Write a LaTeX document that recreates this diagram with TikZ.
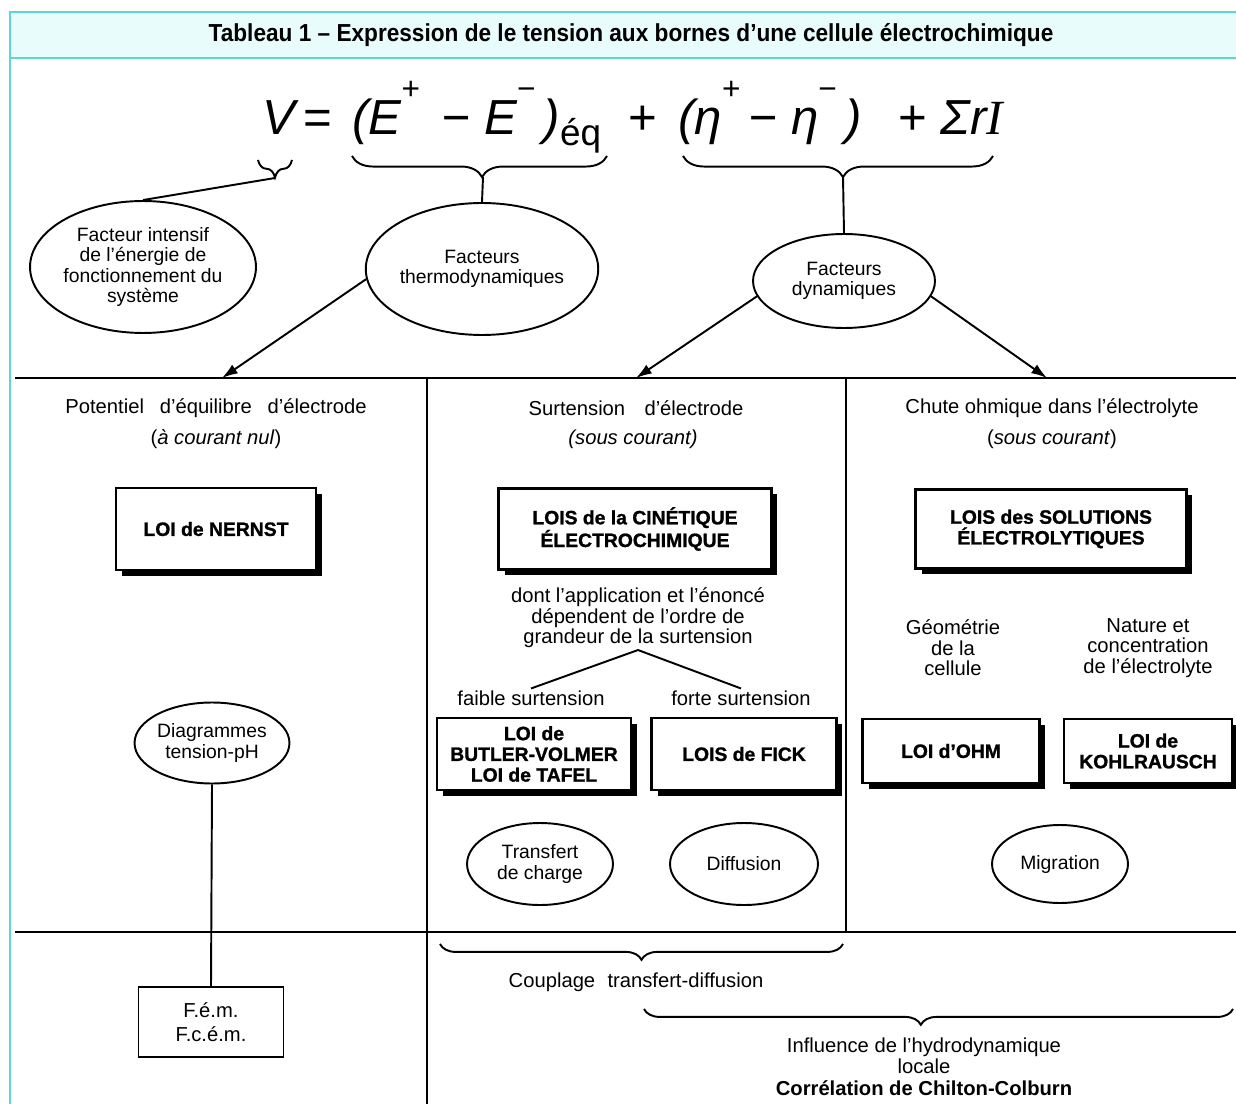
\documentclass[tikz,border=0pt]{standalone}
\usepackage{fontspec}
\setmainfont{Liberation Sans}
\newfontfamily\titrefont{Liberation Sans}[FakeStretch=0.92]
\newfontfamily\loifont{Liberation Sans Bold}[FakeBold=1.2]
\newfontfamily\serifit{Liberation Serif}
\usetikzlibrary{shapes.geometric,arrows.meta,decorations.pathreplacing,shadows}
\definecolor{cyantrait}{RGB}{94,214,214}
\definecolor{cyanfond}{RGB}{232,252,252}
\newcommand\expo[1]{\raisebox{20pt}{\fontsize{18}{18}\selectfont\upshape #1}}
\newcommand\indice[1]{\raisebox{-6pt}{\fontsize{21}{21}\selectfont\upshape #1}}

\begin{document}
\begin{tikzpicture}[x=0.02cm, y=-0.02cm,
  txt/.style={font=\fontsize{11.5}{11.6}\selectfont, align=center, inner sep=1pt},
  bulle/.style={ellipse, draw, line width=1.1pt, align=center, inner sep=0pt,
    font=\fontsize{11}{11.6}\selectfont},
  loi/.style={draw, line width=1.3pt, fill=white, align=center,
    font=\fontsize{11}{11.8}\loifont,
    drop shadow={shadow xshift=3.4pt, shadow yshift=-3.4pt, fill=black, opacity=1}},
  trait/.style={line width=1.1pt},
  fleche/.style={line width=1.1pt, -{Latex[length=9pt, width=6pt]}},
  grille/.style={line width=1.4pt},
  accolade/.style={line width=1.1pt, decorate, decoration={brace, mirror, amplitude=#1}},
  accolade/.default=12pt,
  eq/.style={font=\fontsize{28}{30}\selectfont\itshape, inner sep=0pt, anchor=base west}]
  \useasboundingbox (0,0) rectangle (1236,1104);
  \clip (0,0) rectangle (1236,1104);

  \fill[cyanfond] (10,12) rectangle (1240,58);
  \draw[cyantrait, line width=1.5pt] (1240,12) -- (10,12) -- (10,1110);
  \draw[cyantrait, line width=1.5pt] (10,58) -- (1240,58);
  \node[font=\titrefont\fontsize{14}{16}\selectfont\bfseries] (titre) at (631,35)
    {Tableau 1 – Expression de le tension aux bornes d’une cellule électrochimique};

  \node[eq] (eqV) at (262,135) {V};
  \node[eq] (egal) at (303,135) {\upshape =};
  \node[eq] (eqE) at (352,135) {(E\expo{+}\, − E\expo{−}\,)\indice{éq}};
  \node[eq] (plus1) at (628,135) {\upshape +};
  \node[eq] (eqEta) at (678,135) {(η\expo{+}\,− η\expo{−}\,)};
  \node[eq] (eqR) at (898,135) {\upshape + \itshape Σr{\serifit\itshape I}};

  \draw[accolade=10pt] (258,160) -- (292,160);
  \draw[accolade, decoration={aspect=0.51}] (352,156) -- (607,156);
  \draw[accolade, decoration={aspect=0.516}] (683,156) -- (993,156);
  \coordinate (pointeV) at (275,178);
  \coordinate (pointeE) at (483,177);
  \coordinate (pointeEta) at (843,177);

  \node[bulle, minimum width=4.52cm, minimum height=2.64cm] (intensif) at (143,267)
    {Facteur intensif\\de l’énergie de\\fonctionnement du\\système};
  \node[bulle, minimum width=4.6cm, minimum height=2.64cm] (thermo) at (482,269)
    {Facteurs\\thermodynamiques};
  \node[bulle, minimum width=3.64cm, minimum height=1.88cm] (dyn) at (844,281)
    {Facteurs\\dynamiques};

  \draw[trait] (pointeV) -- (intensif.north);
  \draw[trait] (pointeE) -- (thermo.north);
  \draw[trait] (pointeEta) -- (dyn.north);

  \draw[grille] (15,378) -- (1240,378);
  \draw[grille] (15,932) -- (1240,932);
  \draw[grille] (427,378) -- (427,1110);
  \draw[grille] (846,378) -- (846,932);

  \coordinate (butee1) at (222,378);
  \coordinate (butee2) at (636,378);
  \coordinate (butee3) at (1047,378);
  \draw[fleche] (thermo.185) -- (butee1);
  \draw[fleche] (dyn.190) -- (butee2);
  \draw[fleche] (dyn.350) -- (butee3);

  \node[txt] (titre1) at (216,408) {Potentiel\hskip 9pt d’équilibre\hskip 9pt d’électrode};
  \node[txt] (cond1) at (216,439) {(\textit{à courant nul})};
  \node[loi, minimum width=4cm, minimum height=1.64cm] (nernst) at (216,529) {LOI de NERNST};
  \node[bulle, minimum width=2.92cm, minimum height=1.62cm] (ph) at (212,743)
    {Diagrammes\\tension-pH};
  \node[txt, draw, line width=1.1pt, minimum width=2.9cm, minimum height=1.4cm] (fem) at (211,1022)
    {F.é.m.\\[2pt]F.c.é.m.};
  \draw[trait] (ph.south) -- (fem.north);

  \node[txt] (titre2) at (636,408) {Surtension\hskip 11pt d’électrode};
  \node[txt] (cond2) at (633,439) {\textit{(sous courant)}};
  \node[loi, minimum width=5.46cm, minimum height=1.62cm] (cinetique) at (635,529)
    {LOIS de la CINÉTIQUE\\ÉLECTROCHIMIQUE};
  \node[txt] (dont) at (638,618)
    {dont l’application et l’énoncé\\dépendent de l’ordre de\\grandeur de la surtension};
  \node[txt] (faible) at (531,698) {faible surtension};
  \node[txt] (forte) at (741,698) {forte surtension};
  \draw[trait] (faible.north) -- (dont.south) -- (forte.north);
  \node[loi, minimum width=3.88cm, minimum height=1.44cm] (butler) at (534,754)
    {LOI de\\BUTLER-VOLMER\\LOI de TAFEL};
  \node[loi, minimum width=3.7cm, minimum height=1.44cm] (fick) at (744,754) {LOIS de FICK};
  \node[bulle, minimum width=2.92cm, minimum height=1.64cm] (transfert) at (540,864)
    {Transfert\\de charge};
  \node[bulle, minimum width=2.96cm, minimum height=1.64cm] (diffusion) at (744,864) {Diffusion};

  \node[txt] (titre3) at (1052,408) {Chute ohmique dans l’électrolyte};
  \node[txt] (cond3) at (1052,439) {(\textit{sous courant})};
  \node[loi, minimum width=5.42cm, minimum height=1.58cm] (solutions) at (1051,529)
    {LOIS des SOLUTIONS\\ÉLECTROLYTIQUES};
  \node[txt] (geometrie) at (953,648) {Géométrie\\de la\\cellule};
  \node[txt] (nature) at (1148,648) {Nature et\\concentration\\de l’électrolyte};
  \node[loi, minimum width=3.54cm, minimum height=1.28cm] (ohm) at (951,751) {LOI d’OHM};
  \node[loi, minimum width=3.36cm, minimum height=1.28cm] (kohlrausch) at (1148,751)
    {LOI de\\KOHLRAUSCH};
  \node[bulle, minimum width=2.72cm, minimum height=1.56cm] (migration) at (1060,864) {Migration};

  \draw[accolade=9pt, decoration={aspect=0.5}] (440,944) -- (843,944);
  \node[txt] (couplage) at (636,982) {Couplage\hskip 7pt transfert-diffusion};
  \draw[accolade=9pt, decoration={aspect=0.47}] (644,1009) -- (1233,1009);
  \node[txt] (influence) at (924,1067)
    {Influence de l’hydrodynamique\\locale\\[1pt]\textbf{Corrélation de Chilton-Colburn}};
\end{tikzpicture}
\end{document}
